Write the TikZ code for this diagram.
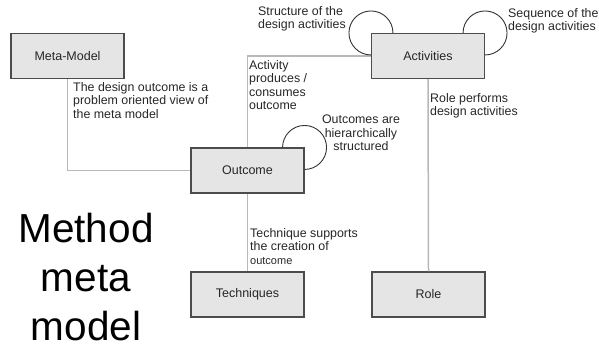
\documentclass[tikz,border=0pt]{standalone}
\usepackage{fontspec}
\setmainfont{Liberation Sans}
\begin{document}
\begin{tikzpicture}[x=1pt,y=-1pt,
  entity/.style={draw=black!70,fill=black!10,line width=1.1pt,
    minimum width=113pt,minimum height=45pt,inner sep=0pt,
    font=\fontsize{12.5}{14}\selectfont,text=black!85},
  link/.style={draw=black!28,line width=1.5pt},
  selfloop/.style={draw=black!80,line width=0.9pt},
  note/.style={inner sep=0pt,align=left,anchor=north west,
    font=\fontsize{12.4}{13.5}\selectfont,text=black!85}]
  \path[use as bounding box] (0,0) rectangle (599,351);

  % entities
  \node[entity] (meta) at (67.5,56) {Meta-Model};
  \node[entity] (act)  at (428,56) {Activities};
  \node[entity] (out)  at (247.5,170.5) {Outcome};
  \node[entity] (tech) at (247.5,294.5) {Techniques};
  \node[entity] (role) at (428.5,294.5) {Role};

  % relations
  \draw[link] (meta.south) |- (out.west);
  \draw[link] (act.west) -| (out.north);
  \draw[link] (act.south) -- (role.north);
  \draw[link] (out.south) -- (tech.north);

  % self relations
  \draw[selfloop] ([xshift=22pt]act.north west) arc[start angle=0,end angle=270,radius=22pt];
  \draw[selfloop] ([xshift=-22pt]act.north east) arc[start angle=180,end angle=-90,radius=22pt];
  \draw[selfloop] ([xshift=-22pt]out.north east) arc[start angle=180,end angle=-90,radius=22pt];

  % relation labels
  \node[note] (lstruct) at (258,6) {Structure of the\\design activities};
  \node[note] (lseq) at (508,8) {Sequence of the\\design activities};
  \node[note] (lprod) at (249,60) {Activity\\produces /\\consumes\\outcome};
  \node[note] (lview) at (73,82) {The design outcome is a\\problem oriented view of\\the meta model};
  \node[note] (lrole) at (430,93) {Role performs\\design activities};
  \node[note,align=center,anchor=north] (lhier) at (361,115) {Outcomes are\\hierarchically\\structured};
  \node[note] (ltech) at (250,228) {Technique supports\\the creation of\\{\fontsize{11}{13}\selectfont outcome}};

  % title
  \node[inner sep=0pt,anchor=north,align=center,
    font=\fontsize{40.5}{49}\selectfont] (title) at (86,213) {Method\\meta\\model};
\end{tikzpicture}
\end{document}
